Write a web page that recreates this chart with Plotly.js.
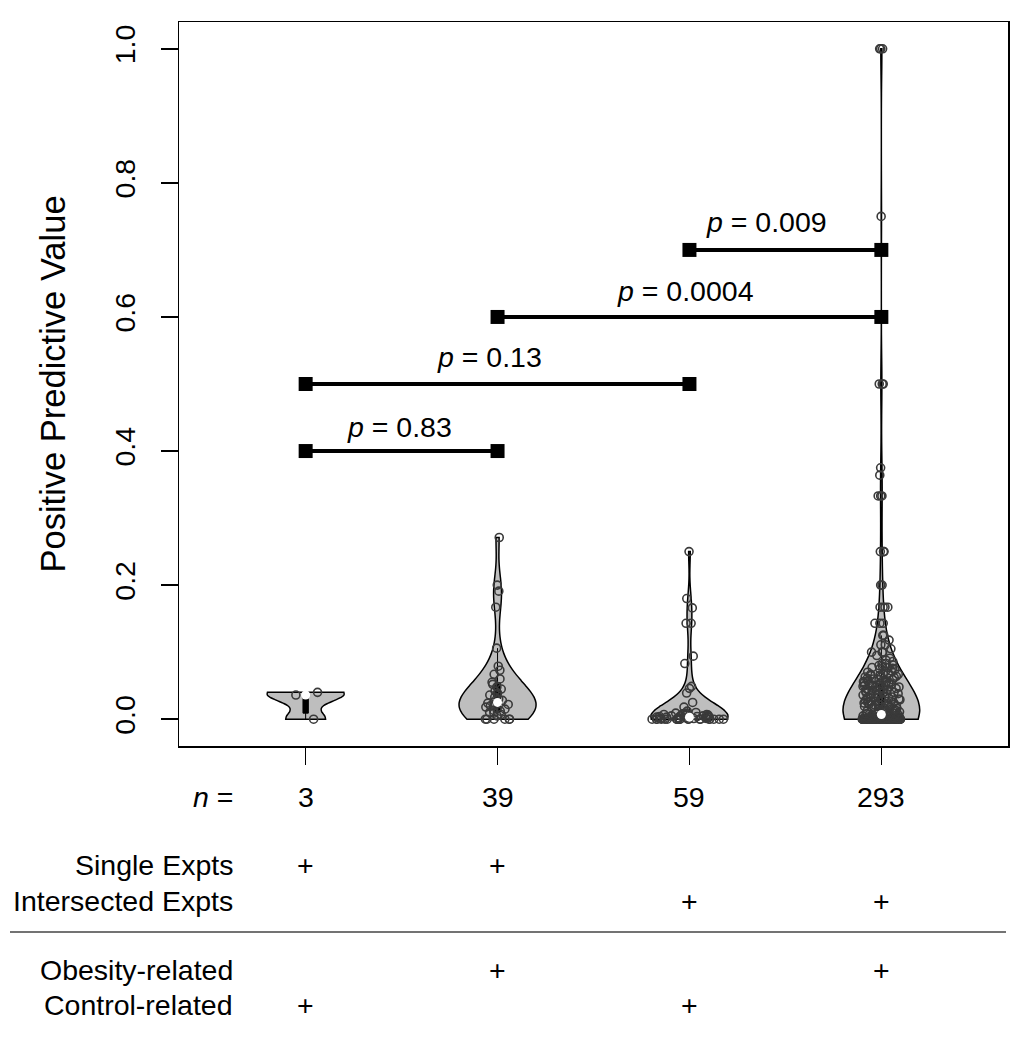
<!DOCTYPE html>
<html><head><meta charset="utf-8">
<script src="https://cdn.plot.ly/plotly-3.0.1.min.js"></script>
<style>body{margin:0;background:#fff}#chart{width:1011px;height:1050px}</style>
</head><body><div id="chart"></div>
<script>
// ---------- data ----------
const groupPositions = [1, 2, 3, 4];

const group1 = [0.040, 0.036, 0.0];

const group2 = [0.271, 0.200, 0.191, 0.167, 0.106, 0.079, 0.073, 0.067, 0.060, 0.055,
  0.052, 0.048, 0.045, 0.042, 0.039, 0.036, 0.033, 0.030, 0.028, 0.025,
  0.025, 0.024, 0.022, 0.022, 0.020, 0.018, 0.015, 0.013, 0.012, 0.010,
  0.009, 0.007, 0.005, 0, 0, 0, 0, 0, 0];

const group3 = [0.250, 0.180, 0.166, 0.143, 0.143, 0.094, 0.083, 0.049, 0.046, 0.039,
  0.025, 0.018, 0.012, 0.010, 0.009, 0.009, 0.008, 0.008, 0.007, 0.007,
  0.006, 0.006, 0.005, 0.005, 0.005, 0.004, 0.004, 0.004, 0.003, 0.003,
  0.003, 0.002, 0.002, 0.002, 0.002, 0.001, 0.001, 0.001, 0.001,
  0, 0, 0, 0, 0, 0, 0, 0, 0, 0,
  0, 0, 0, 0, 0, 0, 0, 0, 0, 0];

const group4 = [1.0, 1.0, 1.0, 0.75, 0.5, 0.5, 0.5, 0.375, 0.364, 0.333,
  0.333, 0.333, 0.25, 0.25, 0.25, 0.2, 0.2, 0.167, 0.167, 0.167,
  0.167, 0.143, 0.143, 0.143, 0.125, 0.125, 0.118, 0.111, 0.111, 0.105,
  0.1, 0.1, 0.1, 0.095, 0.091,
  0.088, 0.086, 0.083, 0.083, 0.081, 0.080, 0.079, 0.077, 0.077, 0.076,
  0.075, 0.074, 0.072, 0.071, 0.070, 0.069, 0.068, 0.067, 0.067, 0.066,
  0.065, 0.064, 0.063, 0.063, 0.062, 0.061, 0.060, 0.059, 0.059, 0.058,
  0.057, 0.056, 0.056, 0.055, 0.055, 0.054, 0.053, 0.053, 0.052, 0.052,
  0.051, 0.051, 0.050, 0.050, 0.050,
  0.049, 0.048, 0.048, 0.047, 0.046, 0.045, 0.045, 0.044, 0.043, 0.043,
  0.042, 0.041, 0.040, 0.040, 0.039, 0.038, 0.038, 0.037, 0.036, 0.036,
  0.035, 0.034, 0.034, 0.033, 0.033, 0.032, 0.031, 0.030, 0.030, 0.029,
  0.029, 0.028, 0.027, 0.027, 0.026, 0.025, 0.025, 0.024, 0.023, 0.023,
  0.022, 0.022, 0.021, 0.021, 0.020,
  0.019, 0.018, 0.018, 0.017, 0.016, 0.016, 0.015, 0.014, 0.014, 0.013,
  0.013, 0.012, 0.012, 0.011, 0.011, 0.010, 0.010, 0.009, 0.009, 0.008,
  0.008, 0.007, 0.007, 0.006, 0.006, 0.005, 0.005, 0.005, 0.004, 0.004,
  0.004, 0.003, 0.003, 0.003, 0.002, 0.002, 0.002, 0.001, 0.001, 0.001,
  0, 0, 0, 0, 0, 0, 0, 0,
  0, 0, 0, 0, 0, 0, 0, 0,
  0, 0, 0, 0, 0, 0, 0, 0,
  0, 0, 0, 0, 0, 0, 0, 0,
  0, 0, 0, 0, 0, 0, 0, 0,
  0, 0, 0, 0, 0, 0, 0, 0,
  0, 0, 0, 0, 0, 0, 0, 0,
  0, 0, 0, 0, 0, 0, 0, 0,
  0, 0, 0, 0, 0, 0, 0, 0,
  0, 0, 0, 0, 0, 0, 0, 0,
  0, 0, 0, 0, 0, 0, 0, 0,
  0, 0, 0, 0, 0, 0, 0, 0,
  0, 0, 0, 0, 0, 0, 0, 0,
  0, 0, 0, 0, 0, 0, 0, 0,
  0, 0, 0, 0, 0, 0, 0, 0,
  0, 0, 0, 0, 0, 0, 0, 0];

const groups = [group1, group2, group3, group4];
const groupBandwidths = [0.012, 0.025, 0.02, 0.04];
const groupJitter = [0.4, 0.6, 1.0, 0.5];

// p-value comparisons
const bracketStart = [1, 1, 2, 3];
const bracketEnd = [2, 3, 4, 4];
const bracketLevel = [0.4, 0.5, 0.6, 0.7];
const pValueText = ['0.83', '0.13', '0.0004', '0.009'];
const pLabelX = [1.49, 1.96, 2.98, 3.40];
const pLabelY = [0.436, 0.541, 0.638, 0.742];

// design table under the plot
const rowLabels = ['Single Expts', 'Intersected Expts', 'Obesity-related', 'Control-related'];
const rowMarks = [[1, 1, 0, 0], [0, 0, 1, 1], [0, 1, 0, 1], [1, 0, 1, 0]];

const yTickValues = [0, 0.2, 0.4, 0.6, 0.8, 1.0];
const yTickText = ['0.0', '0.2', '0.4', '0.6', '0.8', '1.0'];

// ---------- drawing ----------
const FONT = 'Liberation Sans, Arial, Helvetica, sans-serif';
const FS = 28.5;
const traces = [];

groups.forEach((vals, i) => {
  traces.push({
    type: 'violin',
    x0: groupPositions[i],
    y: vals,
    name: 'g' + (i + 1),
    orientation: 'v',
    width: 0.4,
    scalemode: 'width',
    spanmode: 'hard',
    bandwidth: groupBandwidths[i],
    fillcolor: '#bebebe',
    line: {color: '#000', width: 1.5},
    points: 'all',
    pointpos: 0,
    jitter: groupJitter[i],
    marker: {symbol: 'circle-open', size: 8, color: '#3a3a3a', line: {width: 1.6, color: '#3a3a3a'}},
    box: {visible: true, width: 0.07, fillcolor: '#000', line: {color: '#000', width: 1}},
    meanline: {visible: false},
    hoverinfo: 'skip'
  });
});

function median(a) {
  const s = a.slice().sort((p, q) => p - q);
  const m = Math.floor(s.length / 2);
  return s.length % 2 ? s[m] : (s[m - 1] + s[m]) / 2;
}
traces.push({
  type: 'scatter', mode: 'markers',
  x: groupPositions, y: groups.map(median),
  marker: {symbol: 'circle', size: 9, color: '#fff', line: {width: 0}},
  hoverinfo: 'skip'
});

bracketStart.forEach((s, i) => {
  traces.push({
    type: 'scatter', mode: 'lines+markers',
    x: [s, bracketEnd[i]], y: [bracketLevel[i], bracketLevel[i]],
    line: {color: '#000', width: 4},
    marker: {symbol: 'square', size: 14, color: '#000'},
    hoverinfo: 'skip'
  });
});

const annotations = [];
pValueText.forEach((t, i) => {
  annotations.push({
    xref: 'x', yref: 'y', x: pLabelX[i], y: pLabelY[i],
    text: '<i>p</i> = ' + t, showarrow: false,
    font: {family: FONT, size: FS, color: '#000'},
    xanchor: 'center', yanchor: 'middle'
  });
});

// helper: pixel row -> paper y
const plotTop = 22, plotBottom = 746;
const toPaperY = py => (plotBottom - py) / (plotBottom - plotTop);
const labelX = (235 - 179) / (1008 - 179);

const nRowY = toPaperY(797);
const tableRowY = [toPaperY(865), toPaperY(901), toPaperY(970), toPaperY(1005)];

annotations.push({
  xref: 'paper', yref: 'paper', x: labelX, y: nRowY, text: '<i>n</i> =',
  showarrow: false, xanchor: 'right', yanchor: 'middle',
  font: {family: FONT, size: FS, color: '#000'}
});
groups.forEach((vals, i) => {
  annotations.push({
    xref: 'x', yref: 'paper', x: groupPositions[i], y: nRowY, text: String(vals.length),
    showarrow: false, xanchor: 'center', yanchor: 'middle',
    font: {family: FONT, size: FS, color: '#000'}
  });
});
rowLabels.forEach((lab, r) => {
  annotations.push({
    xref: 'paper', yref: 'paper', x: labelX, y: tableRowY[r], text: lab,
    showarrow: false, xanchor: 'right', yanchor: 'middle',
    font: {family: FONT, size: FS, color: '#000'}
  });
  rowMarks[r].forEach((m, c) => {
    if (m) annotations.push({
      xref: 'x', yref: 'paper', x: groupPositions[c], y: tableRowY[r], text: '+',
      showarrow: false, xanchor: 'center', yanchor: 'middle',
      font: {family: FONT, size: FS, color: '#000'}
    });
  });
});

const layout = {
  width: 1011, height: 1050,
  margin: {l: 179, r: 3, t: 22, b: 304, pad: 0},
  paper_bgcolor: '#fff', plot_bgcolor: '#fff',
  showlegend: false,
  violinmode: 'overlay',
  font: {family: FONT, size: FS, color: '#000'},
  xaxis: {
    range: [0.34, 4.66], tickvals: groupPositions, ticktext: ['', '', '', ''],
    ticks: 'outside', ticklen: 17, tickwidth: 1.5, tickcolor: '#000',
    showline: true, linecolor: '#000', linewidth: 1.5, mirror: true,
    showgrid: false, zeroline: false, fixedrange: true
  },
  yaxis: {
    range: [-0.04, 1.04], tickvals: yTickValues, ticktext: yTickText,
    tickangle: -90, ticks: 'outside', ticklen: 17, tickwidth: 1.5, tickcolor: '#000',
    ticklabelstandoff: 14,
    tickfont: {family: FONT, size: FS, color: '#000'},
    showline: true, linecolor: '#000', linewidth: 1.5, mirror: true,
    showgrid: false, zeroline: false, fixedrange: true,
    title: {text: 'Positive Predictive Value', font: {family: FONT, size: 34.5, color: '#000'}, standoff: 33}
  },
  shapes: [{
    type: 'line', xref: 'paper', yref: 'paper',
    x0: (10 - 179) / (1008 - 179), x1: (1006 - 179) / (1008 - 179),
    y0: toPaperY(932), y1: toPaperY(932),
    line: {color: '#444', width: 1.5}
  }],
  annotations: annotations
};

Plotly.newPlot('chart', traces, layout, {displayModeBar: false, staticPlot: true});
</script>
</body></html>
